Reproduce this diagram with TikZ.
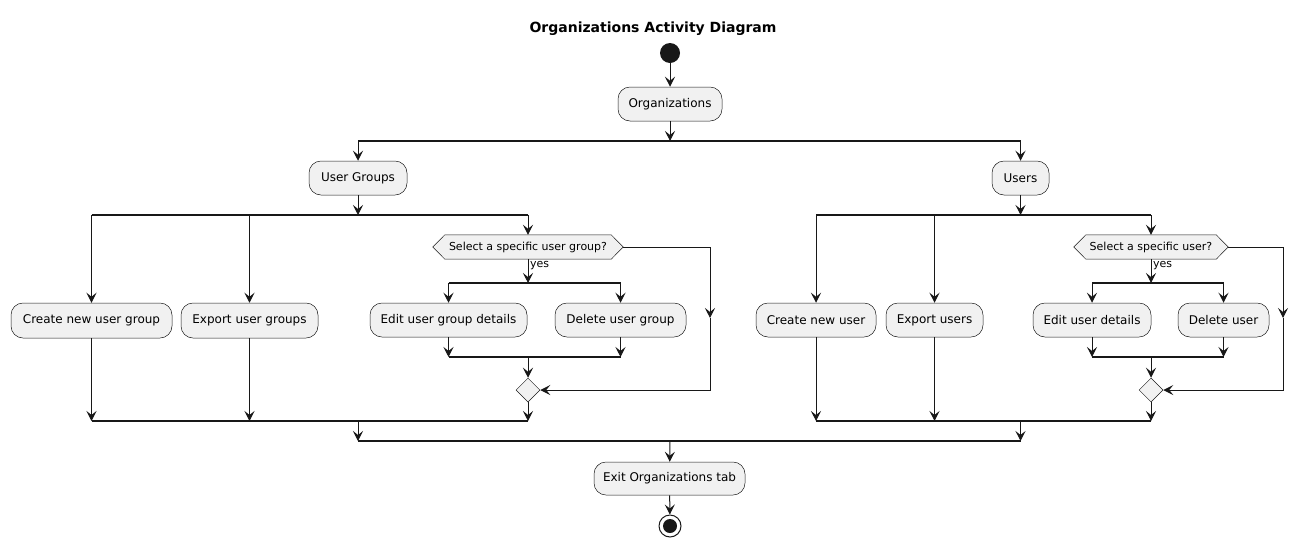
\documentclass[tikz,border=0pt]{standalone}
\usepackage{fontspec}
\setmainfont{DejaVu Sans}
\usetikzlibrary{arrows.meta,shapes.geometric,backgrounds}
\definecolor{ln}{HTML}{181818}
\definecolor{bx}{HTML}{F1F1F1}
\begin{document}
\begin{tikzpicture}[x=1pt,y=-1pt,
  >={Stealth[length=10pt,width=10pt,inset=4pt]},
  act/.style={draw=ln, line width=0.5pt, fill=bx, rounded corners=12pt, minimum height=34pt, inner sep=0pt, font=\fontsize{12}{14}\selectfont},
  hexs/.style={minimum height=24pt, inner sep=0pt, font=\fontsize{11}{13}\selectfont},
  hexdraw/.style={draw=ln, line width=0.5pt, fill=bx},
  merge/.style={diamond, draw=ln, line width=0.5pt, fill=bx, minimum width=24pt, minimum height=24pt, inner sep=0pt},
  conn/.style={draw=ln, line width=1pt, ->},
  bar/.style={draw=ln, line width=1.6pt},
  lbl/.style={font=\fontsize{11}{13}\selectfont, anchor=west, inner sep=1pt}
]
\useasboundingbox (0,0) rectangle (1308,547);

\node[font=\bfseries\fontsize{14}{16}\selectfont] (title) at (653,29) {Organizations Activity Diagram};
\node[circle, fill=ln, minimum size=20pt, inner sep=0pt] (start) at (670,53) {};
\node[act, minimum width=104pt] (org) at (670,104) {Organizations};

% top fork
\coordinate (f1) at (670,141);
\node[act, minimum width=98pt] (ug) at (358,178) {User Groups};
\node[act, minimum width=57pt] (us) at (1020.5,178) {Users};
\draw[conn] (start) -- (org);
\draw[conn] (org) -- (f1);
\draw[bar] (ug |- f1) -- (us |- f1);
\draw[conn] (ug |- f1) -- (ug);
\draw[conn] (us |- f1) -- (us);

% ----- left branch: user groups
\coordinate (f2) at (358,215);
\node[act, minimum width=161pt, minimum height=35pt] (cnug) at (91.5,320.5) {Create new user group};
\node[act, minimum width=137pt, minimum height=35pt] (eug) at (249.5,320.5) {Export user groups};
\node[hexs, minimum width=166pt] (h1) at (528,247) {Select a specific user group?};
\coordinate (h1r) at ([xshift=12pt]h1.east);
\coordinate (h1l) at ([xshift=-12pt]h1.west);
\begin{pgfonlayer}{background}
\filldraw[hexdraw] (h1.north west) -- (h1.north east) -- (h1r) -- (h1.south east) -- (h1.south west) -- (h1l) -- cycle;
\end{pgfonlayer}
\draw[conn] (ug) -- (f2);
\draw[bar] (cnug |- f2) -- (h1 |- f2);
\draw[conn] (cnug |- f2) -- (cnug);
\draw[conn] (eug |- f2) -- (eug);
\draw[conn] (h1 |- f2) -- (h1);

\coordinate (y1) at (528,283);
\node[act, minimum width=157pt] (eugd) at (448.5,320) {Edit user group details};
\node[act, minimum width=131pt] (dug) at (620.5,320) {Delete user group};
\draw[conn] (h1) -- (y1);
\node[lbl] (yes1) at (529,266) {yes};
\draw[bar] (eugd |- y1) -- (dug |- y1);
\draw[conn] (eugd |- y1) -- (eugd);
\draw[conn] (dug |- y1) -- (dug);
\coordinate (k1) at (528,357);
\draw[conn] (eugd) -- (eugd |- k1);
\draw[conn] (dug) -- (dug |- k1);
\draw[bar] (eugd |- k1) -- (dug |- k1);
\node[merge] (m1) at (528,390) {};
\draw[conn] (k1) -- (m1);
\coordinate (r1) at (710,318);
\draw[conn] (h1r) -| (r1);
\draw[conn] (r1) |- (m1.east);

\coordinate (j2) at (358,421);
\draw[conn] (cnug) -- (cnug |- j2);
\draw[conn] (eug) -- (eug |- j2);
\draw[conn] (m1) -- (m1 |- j2);
\draw[bar] (cnug |- j2) -- (m1 |- j2);

% ----- right branch: users
\coordinate (f3) at (1020.5,215);
\node[act, minimum width=120pt] (cnu) at (816,320) {Create new user};
\node[act, minimum width=97pt] (eu) at (934.5,320) {Export users};
\node[hexs, minimum width=130pt] (h2) at (1151,247) {Select a specific user?};
\coordinate (h2r) at ([xshift=12pt]h2.east);
\coordinate (h2l) at ([xshift=-12pt]h2.west);
\begin{pgfonlayer}{background}
\filldraw[hexdraw] (h2.north west) -- (h2.north east) -- (h2r) -- (h2.south east) -- (h2.south west) -- (h2l) -- cycle;
\end{pgfonlayer}
\draw[conn] (us) -- (f3);
\draw[bar] (cnu |- f3) -- (h2 |- f3);
\draw[conn] (cnu |- f3) -- (cnu);
\draw[conn] (eu |- f3) -- (eu);
\draw[conn] (h2 |- f3) -- (h2);

\coordinate (y2) at (1151,283);
\node[act, minimum width=118pt] (eud) at (1092,320) {Edit user details};
\node[act, minimum width=91pt] (du) at (1223.5,320) {Delete user};
\draw[conn] (h2) -- (y2);
\node[lbl] (yes2) at (1152,266) {yes};
\draw[bar] (eud |- y2) -- (du |- y2);
\draw[conn] (eud |- y2) -- (eud);
\draw[conn] (du |- y2) -- (du);
\coordinate (k2) at (1151,357);
\draw[conn] (eud) -- (eud |- k2);
\draw[conn] (du) -- (du |- k2);
\draw[bar] (eud |- k2) -- (du |- k2);
\node[merge] (m2) at (1151,390) {};
\draw[conn] (k2) -- (m2);
\coordinate (r2) at (1283,318);
\draw[conn] (h2r) -| (r2);
\draw[conn] (r2) |- (m2.east);

\coordinate (j4) at (1020.5,421);
\draw[conn] (cnu) -- (cnu |- j4);
\draw[conn] (eu) -- (eu |- j4);
\draw[conn] (m2) -- (m2 |- j4);
\draw[bar] (cnu |- j4) -- (m2 |- j4);

% ----- final join
\coordinate (j3) at (670,441);
\draw[conn] (j2) -- (ug |- j3);
\draw[conn] (j4) -- (us |- j3);
\draw[bar] (ug |- j3) -- (us |- j3);
\node[act, minimum width=151pt, minimum height=33pt] (exit) at (669.5,478.5) {Exit Organizations tab};
\draw[conn] (j3) -- (exit);
\node[circle, draw=ln, line width=1pt, fill=white, minimum size=22pt, inner sep=0pt] (end) at (670,526) {};
\fill[ln] (end.center) circle (7);
\draw[conn] (exit) -- (end);
\end{tikzpicture}
\end{document}
